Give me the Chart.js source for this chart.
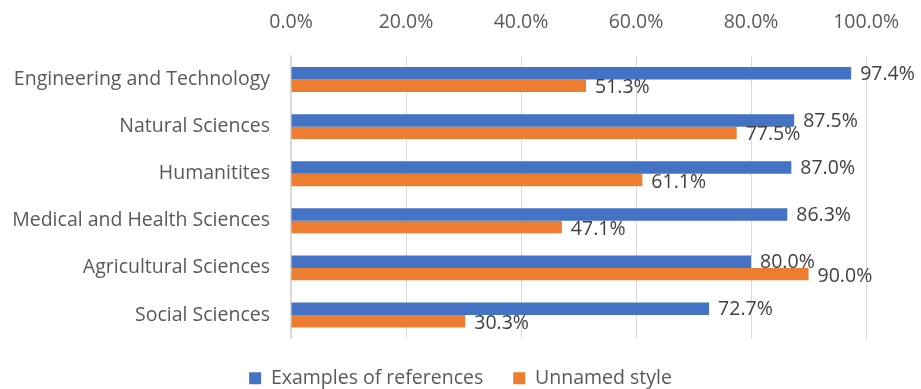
<!DOCTYPE html>
<html>
<head>
<meta charset="utf-8">
<script src="https://cdn.jsdelivr.net/npm/chart.js@4/dist/chart.umd.min.js"></script>
<style>
  html, body { margin: 0; padding: 0; background: #fff; overflow: hidden; }
  #wrap { width: 921px; height: 398px; }
</style>
</head>
<body>
<div id="wrap"><canvas id="myChart" width="921" height="398"></canvas></div>
<script>
const categories = ['Engineering and Technology', 'Natural Sciences', 'Humanitites',
  'Medical and Health Sciences', 'Agricultural Sciences', 'Social Sciences'];
const examplesOfReferences = [97.4, 87.5, 87.0, 86.3, 80.0, 72.7];
const unnamedStyle = [51.3, 77.5, 61.1, 47.1, 90.0, 30.3];
const seriesNames = ['Examples of references', 'Unnamed style'];

const FONT = '"Open Sans", Lato, sans-serif';
const SIZE = 19.5;

// draws the value next to the end of each bar
const valueLabels = {
  id: 'valueLabels',
  afterDatasetsDraw(chart) {
    const ctx = chart.ctx;
    ctx.save();
    ctx.font = SIZE + 'px ' + FONT;
    ctx.fillStyle = '#404040';
    ctx.textAlign = 'left';
    ctx.textBaseline = 'middle';
    chart.data.datasets.forEach((ds, i) => {
      const meta = chart.getDatasetMeta(i);
      meta.data.forEach((bar, j) => {
        ctx.fillText(ds.data[j].toFixed(1) + '%', bar.x + 9, bar.y + 1 + i);
      });
    });
    ctx.restore();
  }
};

const ctx = document.getElementById('myChart');
const myChart = new Chart(ctx, {
  type: 'bar',
  data: {
    labels: categories,
    datasets: [{
      label: seriesNames[0],
      data: examplesOfReferences,
      backgroundColor: '#4472C4'
    }, {
      label: seriesNames[1],
      data: unnamedStyle,
      backgroundColor: '#ED7D31'
    }]
  },
  options: {
    indexAxis: 'y',
    responsive: false,
    animation: false,
    datasets: {
      bar: { categoryPercentage: 0.53, barPercentage: 1.0 }
    },
    scales: {
      x: {
        position: 'top',
        min: 0,
        max: 100,
        ticks: {
          stepSize: 20,
          padding: 22,
          color: '#595959',
          font: { family: FONT, size: SIZE },
          callback: v => v.toFixed(1) + '%'
        },
        grid: { color: '#D9D9D9', drawTicks: false },
        border: { display: false },
        afterFit(scale) { scale.height = 56; }
      },
      y: {
        ticks: {
          padding: 21,
          color: '#595959',
          font: { family: FONT, size: SIZE }
        },
        grid: { display: false, drawTicks: false },
        border: { color: '#D9D9D9', width: 1.5 },
        afterFit(scale) { scale.width = 291; }
      },
      // empty strip on the right so the legend stays centred on the canvas
      rightGap: {
        type: 'linear',
        axis: 'y',
        position: 'right',
        ticks: { display: false },
        grid: { display: false },
        border: { display: false },
        afterFit(scale) { scale.width = 52; }
      }
    },
    plugins: {
      tooltip: { enabled: false },
      legend: {
        position: 'bottom',
        labels: {
          boxWidth: 12,
          boxHeight: 12,
          padding: 30,
          color: '#595959',
          font: { family: FONT, size: SIZE }
        }
      }
    }
  },
  plugins: [valueLabels]
});
</script>
</body>
</html>
